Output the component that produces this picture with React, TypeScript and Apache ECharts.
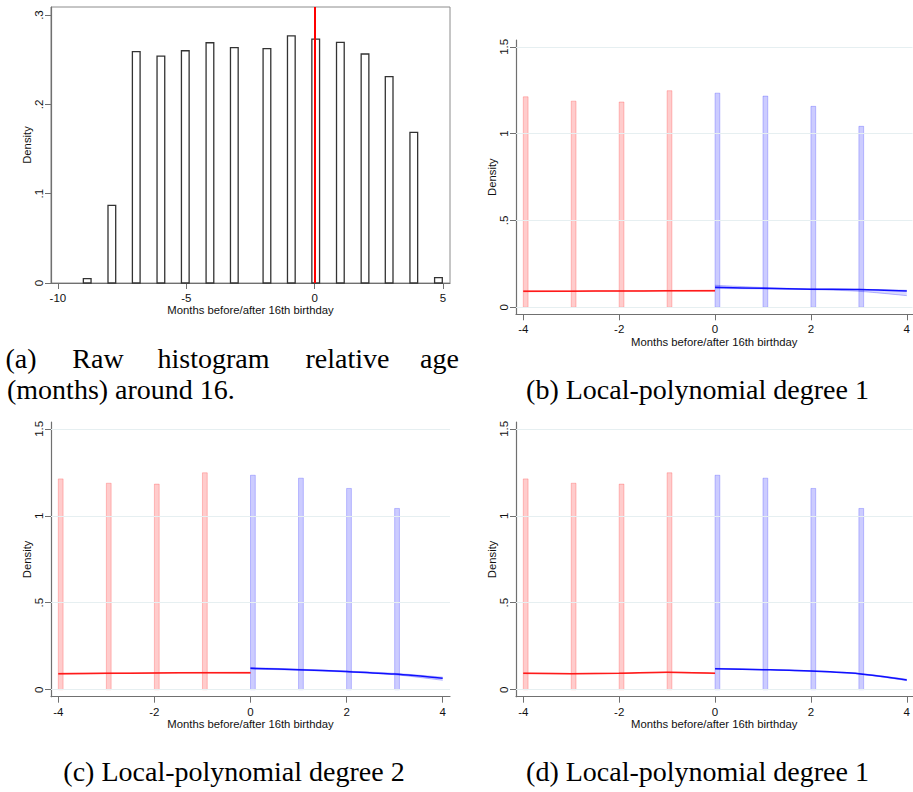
import React, { useEffect, useRef } from "react";
import * as echarts from "echarts";

// ---------- Panel (a): raw histogram ----------
const histA_center = [-8.86, -7.9, -6.95, -5.99, -5.04, -4.08, -3.13, -1.86, -0.91, 0.04, 1.0, 1.96, 2.9, 3.86, 4.82];
const histA_density = [0.005, 0.087, 0.259, 0.254, 0.26, 0.269, 0.2635, 0.2624, 0.2766, 0.273, 0.2695, 0.2564, 0.231, 0.1687, 0.006];
const histA_binWidth = 0.3;
const xTicksA = [-10, -5, 0, 5];
const yTicksA = [0, 0.1, 0.2, 0.3];
const cutoff = 0;

// ---------- Panels (b)-(d): shared histogram ----------
const leftBins = [-4, -3, -2, -1];
const leftDensity = [1.212, 1.187, 1.182, 1.247];
const rightBins = [0, 1, 2, 3];
const rightDensity = [1.233, 1.216, 1.157, 1.042];
const binWidthBCD = 0.1;
const xTicksBCD = [-4, -2, 0, 2, 4];
const yTicksBCD = [0, 0.5, 1, 1.5];

const leftX = [-4, -3, -2, -1, 0];
const rightX = [0, 1, 2, 3, 4];

// (b) local-polynomial degree 1
const fitB_left = [0.092, 0.093, 0.094, 0.095, 0.096];
const loB_left = [0.089, 0.091, 0.092, 0.093, 0.093];
const hiB_left = [0.095, 0.095, 0.096, 0.097, 0.099];
const fitB_right = [0.115, 0.109, 0.104, 0.102, 0.094];
const loB_right = [0.108, 0.106, 0.102, 0.092, 0.067];
const hiB_right = [0.127, 0.114, 0.106, 0.104, 0.098];

// (c) local-polynomial degree 2
const fitC_left = [0.092, 0.094, 0.096, 0.098, 0.098];
const loC_left = [0.089, 0.092, 0.094, 0.096, 0.094];
const hiC_left = [0.095, 0.096, 0.098, 0.1, 0.101];
const fitC_right = [0.123, 0.115, 0.104, 0.09, 0.066];
const loC_right = [0.119, 0.112, 0.101, 0.086, 0.054];
const hiC_right = [0.127, 0.118, 0.107, 0.094, 0.072];

// (d) local-polynomial degree 1
const fitD_left = [0.094, 0.092, 0.094, 0.1, 0.094];
const loD_left = [0.092, 0.091, 0.093, 0.098, 0.092];
const hiD_left = [0.096, 0.094, 0.096, 0.101, 0.096];
const fitD_right = [0.121, 0.115, 0.107, 0.092, 0.056];
const loD_right = [0.119, 0.114, 0.105, 0.09, 0.052];
const hiD_right = [0.123, 0.117, 0.109, 0.094, 0.06];

const captionA1 = ["(a)", "Raw", "histogram", "relative", "age"];
const captionA2 = "(months) around 16.";
const captionB = "(b) Local-polynomial degree 1";
const captionC = "(c) Local-polynomial degree 2";
const captionD = "(d) Local-polynomial degree 1";
const xName = "Months before/after 16th birthday";
const yName = "Density";

const AXIS_COLOR = "#707070";
const SANS = "Liberation Sans";

const fmt = (v: number) => {
  const s = String(Math.round(v * 10) / 10);
  return s.replace(/^0\./, ".").replace(/^-0\./, "-.");
};

const rectRender = (fill: string, stroke: string, lw: number) => (params: any, api: any) => {
  const x0 = api.value(0);
  const x1 = api.value(1);
  const h = api.value(2);
  const p0 = api.coord([x0, 0]);
  const p1 = api.coord([x1, h]);
  return {
    type: "rect",
    shape: { x: p0[0], y: p1[1], width: p1[0] - p0[0], height: p0[1] - p1[1] },
    style: { fill, stroke, lineWidth: lw },
  };
};

function xAxisCfg(gridIndex: number, min: number, max: number, ticks: number[]) {
  return {
    type: "value",
    gridIndex,
    min,
    max,
    name: xName,
    nameLocation: "middle",
    nameGap: 19,
    nameTextStyle: { fontFamily: SANS, fontSize: 11.3, color: "#111" },
    axisLine: { show: true, onZero: false, lineStyle: { color: AXIS_COLOR, width: 1.2 } },
    axisTick: { show: true, length: 6, customValues: ticks, lineStyle: { color: AXIS_COLOR, width: 1 } },
    axisLabel: { customValues: ticks, formatter: fmt, fontFamily: SANS, fontSize: 11.5, color: "#111", margin: 9 },
    splitLine: { show: false },
  };
}

function yAxisCfg(gridIndex: number, min: number, max: number, ticks: number[]) {
  return {
    type: "value",
    gridIndex,
    min,
    max,
    name: yName,
    nameLocation: "middle",
    nameGap: 19,
    nameTextStyle: { fontFamily: SANS, fontSize: 11.3, color: "#111" },
    axisLine: { show: true, onZero: false, lineStyle: { color: AXIS_COLOR, width: 1.2 } },
    axisTick: { show: true, length: 6, customValues: ticks, lineStyle: { color: AXIS_COLOR, width: 1 } },
    axisLabel: { customValues: ticks, formatter: fmt, rotate: 90, fontFamily: SANS, fontSize: 11.5, color: "#111", margin: 6 },
    splitLine: { show: false },
  };
}

function bandSeries(idx: number, xs: number[], lo: number[], hi: number[], rgb: string) {
  return {
    type: "custom",
    xAxisIndex: idx,
    yAxisIndex: idx,
    data: xs.map((x, i) => [x, lo[i], hi[i]]),
    encode: { x: 0, y: [1, 2] },
    z: 3,
    silent: true,
    renderItem: (params: any, api: any) => {
      if (params.dataIndex !== 0) return null;
      const upper = xs.map((x, i) => api.coord([x, hi[i]]));
      const lower = xs.map((x, i) => api.coord([x, lo[i]]));
      const poly = upper.concat(lower.slice().reverse());
      return {
        type: "group",
        children: [
          { type: "polygon", shape: { points: poly }, style: { fill: `rgba(${rgb},0.14)`, stroke: "none" } },
          { type: "polyline", shape: { points: upper, smooth: 0.3 }, style: { fill: "none", stroke: `rgba(${rgb},0.25)`, lineWidth: 1 } },
          { type: "polyline", shape: { points: lower, smooth: 0.3 }, style: { fill: "none", stroke: `rgba(${rgb},0.25)`, lineWidth: 1 } },
        ],
      };
    },
  };
}

function fitSeries(idx: number, xs: number[], ys: number[], color: string) {
  return {
    type: "line",
    xAxisIndex: idx,
    yAxisIndex: idx,
    data: xs.map((x, i) => [x, ys[i]]),
    showSymbol: false,
    symbol: "none",
    smooth: 0.3,
    lineStyle: { color, width: 1.5 },
    z: 4,
    silent: true,
  };
}

function localPanel(idx: number, fl: number[], ll: number[], hl: number[], fr: number[], lr: number[], hr: number[]) {
  return [
    {
      type: "line",
      xAxisIndex: idx,
      yAxisIndex: idx,
      data: [],
      z: 1,
      silent: true,
      markLine: {
        silent: true,
        symbol: ["none", "none"],
        label: { show: false },
        lineStyle: { color: "#e6eff1", width: 1, type: "solid" },
        data: yTicksBCD.map((v) => ({ yAxis: v })),
      },
    },
    {
      type: "custom",
      xAxisIndex: idx,
      yAxisIndex: idx,
      renderItem: rectRender("rgba(255,0,0,0.2)", "rgba(255,0,0,0.22)", 1),
      encode: { x: [0, 1], y: 2 },
      data: leftBins.map((b, i) => [b, b + binWidthBCD, leftDensity[i]]),
      z: 2,
      silent: true,
    },
    {
      type: "custom",
      xAxisIndex: idx,
      yAxisIndex: idx,
      renderItem: rectRender("rgba(0,0,255,0.2)", "rgba(0,0,255,0.22)", 1),
      encode: { x: [0, 1], y: 2 },
      data: rightBins.map((b, i) => [b, b + binWidthBCD, rightDensity[i]]),
      z: 2,
      silent: true,
    },
    bandSeries(idx, leftX, ll, hl, "255,0,0"),
    bandSeries(idx, rightX, lr, hr, "0,0,255"),
    fitSeries(idx, leftX, fl, "#ff1a1a"),
    fitSeries(idx, rightX, fr, "#1010ff"),
  ];
}

export default function App() {
  const ref = useRef<HTMLDivElement>(null);

  useEffect(() => {
    if (!ref.current) return;
    const chart = echarts.init(ref.current, undefined, { renderer: "svg" });

    const serif = '28px "Liberation Serif"';
    const captionWordX = [21, 98, 213.5, 347.5, 439.5];

    const option: any = {
      animation: false,
      backgroundColor: "#ffffff",
      grid: [
        { left: 51, top: 7, width: 399, height: 276, show: true, borderColor: "#8c8c8c", borderWidth: 1, backgroundColor: "transparent" },
        { left: 516, top: 40, width: 397, height: 274.3 },
        { left: 51, top: 422, width: 399, height: 274.7 },
        { left: 516, top: 422, width: 397, height: 274.7 },
      ],
      xAxis: [
        xAxisCfg(0, -10.27, 5.27, xTicksA),
        xAxisCfg(1, -4.152, 4.119, xTicksBCD),
        xAxisCfg(2, -4.152, 4.152, xTicksBCD),
        xAxisCfg(3, -4.152, 4.119, xTicksBCD),
      ],
      yAxis: [
        yAxisCfg(0, 0, 0.309, yTicksA),
        yAxisCfg(1, -0.0403, 1.539, yTicksBCD),
        yAxisCfg(2, -0.0403, 1.539, yTicksBCD),
        yAxisCfg(3, -0.0403, 1.539, yTicksBCD),
      ],
      series: [
        {
          type: "custom",
          xAxisIndex: 0,
          yAxisIndex: 0,
          renderItem: rectRender("#ffffff", "#333333", 1.3),
          encode: { x: [0, 1], y: 2 },
          data: histA_center.map((c, i) => [c - histA_binWidth / 2, c + histA_binWidth / 2, histA_density[i]]),
          z: 2,
          silent: true,
        },
        {
          type: "line",
          xAxisIndex: 0,
          yAxisIndex: 0,
          data: [],
          z: 5,
          silent: true,
          markLine: {
            silent: true,
            symbol: ["none", "none"],
            label: { show: false },
            lineStyle: { color: "#ff0000", width: 2, type: "solid" },
            data: [{ xAxis: cutoff }],
          },
        },
        ...localPanel(1, fitB_left, loB_left, hiB_left, fitB_right, loB_right, hiB_right),
        ...localPanel(2, fitC_left, loC_left, hiC_left, fitC_right, loC_right, hiC_right),
        ...localPanel(3, fitD_left, loD_left, hiD_left, fitD_right, loD_right, hiD_right),
      ],
      graphic: [
        ...captionA1.map((w, i) => ({
          type: "text",
          x: captionWordX[i],
          y: 358,
          style: { text: w, font: serif, fill: "#000", textAlign: "center", textVerticalAlign: "middle" },
        })),
        {
          type: "text",
          x: 7,
          y: 389,
          style: { text: captionA2, font: serif, fill: "#000", textAlign: "left", textVerticalAlign: "middle" },
        },
        {
          type: "text",
          x: 697.5,
          y: 389,
          style: { text: captionB, font: serif, fill: "#000", textAlign: "center", textVerticalAlign: "middle" },
        },
        {
          type: "text",
          x: 234,
          y: 771,
          style: { text: captionC, font: serif, fill: "#000", textAlign: "center", textVerticalAlign: "middle" },
        },
        {
          type: "text",
          x: 697.5,
          y: 771,
          style: { text: captionD, font: serif, fill: "#000", textAlign: "center", textVerticalAlign: "middle" },
        },
      ],
    };

    chart.setOption(option);
    return () => chart.dispose();
  }, []);

  return (
    <div
      ref={ref}
      style={{ position: "absolute", left: 0, top: 0, width: 913, height: 792, background: "#fff" }}
    />
  );
}
